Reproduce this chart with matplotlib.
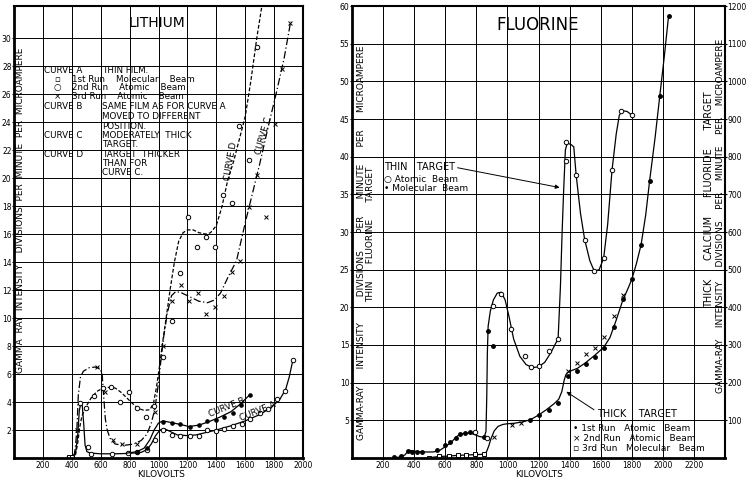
import numpy as np
import matplotlib
matplotlib.use('Agg')
import matplotlib.pyplot as plt

plt.rcParams['font.family'] = ['DejaVu Sans']

# ---------------- LITHIUM (left panel) ----------------
# curve A: thin film, solid line
a_line_x = [370, 400, 425, 440, 452, 462, 472, 482, 492, 505, 530, 600, 700, 800, 880, 920, 950, 980, 1010,
            1040, 1080, 1130, 1200, 1260, 1320, 1400, 1500, 1600, 1700, 1780, 1840, 1880, 1905, 1930]
a_line_y = [0.1, 0.15, 0.3, 1.5, 3.4, 3.9, 3.8, 2.5, 0.9, 0.45, 0.35, 0.3, 0.3, 0.33, 0.4, 0.6, 1.0, 1.6, 2.0,
            2.1, 1.9, 1.65, 1.6, 1.65, 1.8, 2.0, 2.3, 2.65, 3.1, 3.6, 4.2, 4.9, 5.8, 7.0]
a_pts_x = [455, 515, 530, 677, 792, 849, 918, 976, 1034, 1092, 1150, 1219, 1277, 1334, 1399, 1454, 1519,
           1577, 1634, 1699, 1761, 1819, 1877, 1930]
a_pts_y = [3.9, 0.8, 0.3, 0.3, 0.38, 0.4, 0.55, 1.3, 2.0, 1.65, 1.55, 1.55, 1.55, 2.0, 1.9, 2.1, 2.3,
           2.4, 2.8, 3.2, 3.5, 4.2, 4.8, 7.0]
a_sq_x = [380, 400]
a_sq_y = [0.1, 0.1]

# curve B: same film moved, solid line with dots
b_line_x = [780, 850, 900, 940, 970, 1000, 1030, 1080, 1150, 1210, 1280, 1350, 1420, 1500, 1560, 1630]
b_line_y = [0.35, 0.45, 0.7, 1.3, 2.0, 2.5, 2.65, 2.55, 2.4, 2.25, 2.35, 2.6, 2.9, 3.3, 3.8, 4.5]
b_pts_x = [849, 919, 1034, 1092, 1150, 1219, 1277, 1334, 1399, 1454, 1519, 1570, 1630]
b_pts_y = [0.45, 0.7, 2.6, 2.5, 2.45, 2.2, 2.35, 2.65, 2.7, 2.95, 3.2, 3.8, 4.5]

# curve C: moderately thick target, dash-dot
c_line_x = [415, 425, 435, 445, 460, 480, 520, 560, 595, 610, 620, 632, 645, 665, 700, 760, 830, 880, 920,
            950, 975, 995, 1015, 1035, 1060, 1090, 1120, 1160, 1220, 1280, 1340, 1390, 1430, 1480, 1540,
            1600, 1650, 1700, 1760, 1820, 1870, 1915]
c_line_y = [0.1, 0.8, 2.0, 4.5, 5.8, 6.2, 6.45, 6.5, 6.4, 6.0, 4.5, 2.8, 2.0, 1.4, 1.0, 0.9, 1.0, 1.25, 1.7,
            2.5, 3.5, 5.0, 6.8, 8.6, 10.3, 11.6, 11.9, 11.8, 11.5, 11.2, 11.1, 11.3, 11.8, 12.9, 14.1,
            16.8, 18.9, 21.0, 23.7, 26.3, 28.6, 31.2]
c_pts_x = [434, 572, 630, 688, 745, 849, 976, 1029, 1091, 1155, 1213, 1270, 1328, 1392, 1450, 1507, 1565,
           1623, 1681, 1743, 1803, 1854, 1911]
c_pts_y = [2.0, 6.5, 4.7, 1.3, 1.0, 1.0, 3.3, 8.0, 11.2, 12.35, 11.2, 11.8, 10.3, 10.8, 11.6, 13.3, 14.1,
           17.95, 20.2, 17.2, 23.9, 27.8, 31.1]

# curve D: thicker target, dashed
d_line_x = [425, 440, 455, 470, 500, 540, 580, 620, 660, 700, 740, 780, 820, 860, 900, 940, 965, 985, 1005,
            1025, 1050, 1080, 1110, 1140, 1170, 1200, 1240, 1280, 1330, 1360, 1400, 1440, 1480, 1520, 1560,
            1600, 1640, 1680, 1720]
d_line_y = [0.2, 1.0, 2.2, 3.0, 3.7, 4.4, 4.8, 5.0, 5.05, 5.0, 4.7, 4.3, 3.9, 3.55, 3.4, 3.45, 3.9, 5.0, 6.4,
            8.0, 9.8, 12.0, 14.0, 15.5, 16.1, 16.3, 16.3, 16.1, 16.0, 16.1, 16.6, 18.0, 19.9, 21.2, 22.8,
            24.4, 27.0, 30.0, 32.6]
d_pts_x = [499, 556, 614, 672, 734, 796, 854, 914, 970, 1029, 1092, 1150, 1207, 1265, 1327, 1392, 1445,
           1507, 1560, 1623, 1681]
d_pts_y = [3.6, 4.45, 5.0, 5.1, 4.0, 4.7, 3.55, 2.95, 3.75, 7.2, 9.8, 13.2, 17.2, 15.1, 15.8, 15.05, 18.8,
           18.2, 23.7, 21.3, 29.4]

li_xticks = [200, 400, 600, 800, 1000, 1200, 1400, 1600, 1800, 2000]
li_yticks = [2, 4, 6, 8, 10, 12, 14, 16, 18, 20, 22, 24, 26, 28, 30]

# ---------------- FLUORINE (right panel) ----------------
thin_line_x = [270, 300, 340, 360, 380, 420, 470, 520, 560, 600, 640, 670, 700, 730, 760, 790, 820, 850, 862,
               867, 871, 876, 890, 910, 935, 960, 985, 1010, 1040, 1080, 1120, 1160, 1200, 1240, 1280, 1310,
               1326, 1333, 1341, 1352, 1362, 1373, 1385, 1410, 1427, 1442, 1470, 1497, 1530, 1559, 1590,
               1619, 1645, 1673, 1700, 1720, 1740, 1770, 1802]
thin_line_y = [0.05, 0.1, 0.4, 0.9, 1.0, 0.85, 0.8, 0.8, 0.95, 1.5, 2.1, 2.8, 3.2, 3.3, 3.3, 3.1, 2.85, 2.75,
               3.5, 8.0, 14.0, 17.5, 19.5, 21.0, 21.9, 22.0, 21.0, 18.8, 15.8, 13.5, 12.4, 12.0, 12.1, 12.7,
               14.0, 15.2, 15.8, 19.0, 22.7, 30.0, 35.6, 40.9, 41.8, 41.6, 41.3, 37.6, 32.5, 29.0, 26.2,
               24.8, 25.0, 26.5, 31.0, 38.2, 43.0, 45.5, 46.1, 46.0, 45.5]
thin_mol_x = [269, 318, 359, 388, 420, 452, 548, 601, 633, 666, 698, 730, 762, 848, 873, 905]
thin_mol_y = [0.15, 0.2, 0.95, 0.85, 0.8, 0.8, 1.05, 1.75, 2.15, 2.6, 3.2, 3.3, 3.4, 2.75, 16.8, 14.9]
thin_atom_x = [790, 869, 905, 961, 1026, 1110, 1150, 1205, 1266, 1326, 1377, 1379, 1442, 1497, 1559, 1619,
               1673, 1733, 1802]
thin_atom_y = [3.45, 2.6, 20.2, 21.8, 17.1, 13.5, 12.1, 12.2, 14.2, 15.8, 39.4, 41.9, 37.6, 29.0, 24.8, 26.5,
               38.2, 46.0, 45.5]

thick_line_x = [480, 520, 560, 620, 680, 740, 800, 850, 865, 880, 895, 915, 940, 970, 1000, 1040, 1100, 1150,
                1200, 1250, 1300, 1330, 1350, 1365, 1375, 1385, 1400, 1450, 1500, 1560, 1620, 1660, 1700,
                1740, 1780, 1800, 1830, 1860, 1890, 1915, 1950, 1980, 2010, 2037]
thick_line_y = [0.0, 0.1, 0.2, 0.25, 0.35, 0.4, 0.45, 0.5, 0.8, 1.6, 2.6, 3.6, 4.2, 4.45, 4.55, 4.6, 4.8, 5.1,
                5.7, 6.4, 7.2, 7.8, 8.8, 10.3, 11.0, 11.3, 11.5, 11.9, 12.6, 13.6, 14.7, 16.0, 18.3,
                20.8, 22.7, 23.7, 25.8, 28.3, 32.3, 36.8, 42.5, 48.0, 53.4, 58.7]
thick_run1_x = [1148, 1206, 1266, 1326, 1388, 1448, 1508, 1566, 1624, 1684, 1744, 1802, 1860, 1915, 1980, 2037]
thick_run1_y = [5.0, 5.7, 6.4, 7.3, 10.9, 11.55, 12.5, 13.4, 14.6, 17.4, 21.1, 23.7, 28.3, 36.8, 48.0, 58.7]
thick_run2_x = [912, 1030, 1088, 1388, 1448, 1508, 1566, 1624, 1684, 1744]
thick_run2_y = [2.8, 4.4, 4.6, 11.55, 12.6, 13.8, 14.6, 16.1, 18.9, 21.6]
thick_run3_x = [494, 558, 623, 683, 735, 792, 848]
thick_run3_y = [0.05, 0.2, 0.27, 0.35, 0.45, 0.5, 0.5]

fl_xticks = [200, 400, 600, 800, 1000, 1200, 1400, 1600, 1800, 2000, 2200]
fl_yticks = [5, 10, 15, 20, 25, 30, 35, 40, 45, 50, 55, 60]
fl_rticks = [100, 200, 300, 400, 500, 600, 700, 800, 900, 1000, 1100, 1200]

tick_fs = 5.5
small_fs = 6.3
lw = 0.9


def frame(ax, xlim, ylim, xticks, yticks):
    ax.set_xlim(*xlim)
    ax.set_ylim(*ylim)
    ax.set_xticks(xticks)
    ax.set_yticks(yticks)
    ax.tick_params(length=1.5, width=0.8, labelsize=tick_fs, pad=0.3)
    ax.grid(True, color='black', lw=0.7)
    for s in ax.spines.values():
        s.set_linewidth(1.5)
    ax.spines['left'].set_linewidth(2)
    ax.spines['bottom'].set_linewidth(2)


fig = plt.figure(figsize=(7.5, 4.8), dpi=100)

# ---- left ----
ax = fig.add_axes([14 / 750, 22 / 480, 289 / 750, 452 / 480])
frame(ax, (0, 2000), (0, 32.3), li_xticks, li_yticks)

ax.plot(a_line_x, a_line_y, color='black', lw=lw)
ax.plot(a_pts_x, a_pts_y, 'o', ms=3.2, mfc='white', mec='black', mew=0.7)
ax.plot(a_sq_x, a_sq_y, 's', ms=2.5, mfc='white', mec='black', mew=0.7)
ax.plot(b_line_x, b_line_y, color='black', lw=lw)
ax.plot(b_pts_x, b_pts_y, 'o', ms=2.3, color='black')
ax.plot(c_line_x, c_line_y, color='black', lw=lw, dashes=(6, 2, 1, 2))
ax.plot(c_pts_x, c_pts_y, 'x', ms=3.5, color='black', mew=0.7)
ax.plot(d_line_x, d_line_y, color='black', lw=lw, dashes=(3, 1.6))
ax.plot(d_pts_x, d_pts_y, 'o', ms=3.2, mfc='white', mec='black', mew=0.7)

ax.text(990, 31.1, 'LITHIUM', fontsize=10, ha='center', va='center')
ax.text(46, 17.7, 'GAMMA  RAY  INTENSITY    DIVISIONS  PER  MINUTE  PER  MICROAMPERE',
        rotation=90, fontsize=6.5, ha='center', va='center')
ax.text(1020, -1.5, 'KILOVOLTS', fontsize=6.5, ha='center', va='bottom', clip_on=False)

legend_rows = [
    (27.7, 'CURVE A', 'THIN FILM.'),
    (25.1, 'CURVE B', 'SAME FILM AS FOR CURVE A'),
    (24.4, '', 'MOVED TO DIFFERENT'),
    (23.7, '', 'POSITION.'),
    (23.05, 'CURVE C', 'MODERATELY  THICK'),
    (22.4, '', 'TARGET.'),
    (21.7, 'CURVE D', 'TARGET  THICKER'),
    (21.05, '', 'THAN FOR'),
    (20.4, '', 'CURVE C.'),
]
for yy, left, right in legend_rows:
    ax.text(205, yy, left, fontsize=small_fs, va='center')
    ax.text(612, yy, right, fontsize=small_fs, va='center')
run_rows = [
    (27.07, '▫', '1st Run    Molecular    Beam'),
    (26.45, '○', '2nd Run    Atomic    Beam'),
    (25.8, '×', '3rd Run    Atomic    Beam'),
]
for yy, sym, txt in run_rows:
    ax.text(298, yy, sym, fontsize=small_fs, va='center', ha='center')
    ax.text(402, yy, txt, fontsize=small_fs, va='center')

ax.text(1500, 21.2, 'CURVE D', rotation=80, fontsize=small_fs, ha='center', va='center')
ax.text(1728, 23.0, 'CURVE C', rotation=74, fontsize=small_fs, ha='center', va='center')
ax.text(1475, 3.6, 'CURVE B', rotation=22, fontsize=small_fs, ha='center', va='center')
ax.text(1690, 3.35, 'CURVE A', rotation=22, fontsize=small_fs, ha='center', va='center')

# ---- right ----
ax = fig.add_axes([352 / 750, 22 / 480, 373 / 750, 452 / 480])
frame(ax, (0, 2400), (0, 60), fl_xticks, fl_yticks)
ax2 = ax.twinx()
ax2.set_ylim(0, 1200)
ax2.set_yticks(fl_rticks)
ax2.tick_params(length=1.5, width=0.8, labelsize=tick_fs, pad=0.3)
for s in ax2.spines.values():
    s.set_visible(False)

ax.plot(thin_line_x, thin_line_y, color='black', lw=lw)
ax.plot(thin_mol_x, thin_mol_y, 'o', ms=2.5, color='black')
ax.plot(thin_atom_x, thin_atom_y, 'o', ms=3.2, mfc='white', mec='black', mew=0.7)
ax.plot(thick_line_x, thick_line_y, color='black', lw=lw)
ax.plot(thick_run1_x, thick_run1_y, 'o', ms=2.5, color='black')
ax.plot(thick_run2_x, thick_run2_y, 'x', ms=3.2, color='black', mew=0.7)
ax.plot(thick_run3_x, thick_run3_y, 's', ms=2.5, mfc='white', mec='black', mew=0.7)

ax.text(1193, 57.5, 'FLUORINE', fontsize=12, ha='center', va='center')
ax.text(1206, -2.79, 'KILOVOLTS', fontsize=6.5, ha='center', va='bottom', clip_on=False)
ax.text(61, 28.55, 'GAMMA-RAY      INTENSITY         DIVISIONS      PER      MINUTE      PER      MICROAMPERE',
        rotation=90, fontsize=6.5, ha='center', va='center')
ax.text(122, 29.7, 'THIN      FLUORINE      TARGET', rotation=90, fontsize=6.5, ha='center', va='center')
ax.text(2296, 34.3, 'THICK      CALCIUM      FLUORIDE      TARGET', rotation=90, fontsize=7,
        ha='center', va='center')
ax.text(2368, 32.1, 'GAMMA-RAY    INTENSITY     DIVISIONS    PER    MINUTE    PER    MICROAMPERE', rotation=90,
        fontsize=6.5, ha='center', va='center')

ax.annotate('THIN   TARGET', xy=(1336, 35.9), xytext=(205, 38.6), fontsize=7, va='center',
            arrowprops=dict(arrowstyle='-|>', lw=0.7, color='black', mutation_scale=6,
                            shrinkA=0, shrinkB=0, relpos=(1, 0.5)))
ax.text(205, 37.0, '○ Atomic  Beam', fontsize=6.5, va='center')
ax.text(205, 35.8, '• Molecular  Beam', fontsize=6.5, va='center')

ax.annotate('THICK    TARGET', xy=(1379, 8.8), xytext=(1575, 5.9), fontsize=7, va='center',
            arrowprops=dict(arrowstyle='-|>', lw=0.7, color='black', mutation_scale=6,
                            shrinkA=0, shrinkB=0, relpos=(0, 0.7)))
ax.text(1420, 3.9, '• 1st Run   Atomic   Beam', fontsize=6.5, va='center')
ax.text(1420, 2.6, '× 2nd Run   Atomic   Beam', fontsize=6.5, va='center')
ax.text(1420, 1.3, '▫ 3rd Run   Molecular   Beam', fontsize=6.5, va='center')

fig.savefig('out.png', dpi=100)
